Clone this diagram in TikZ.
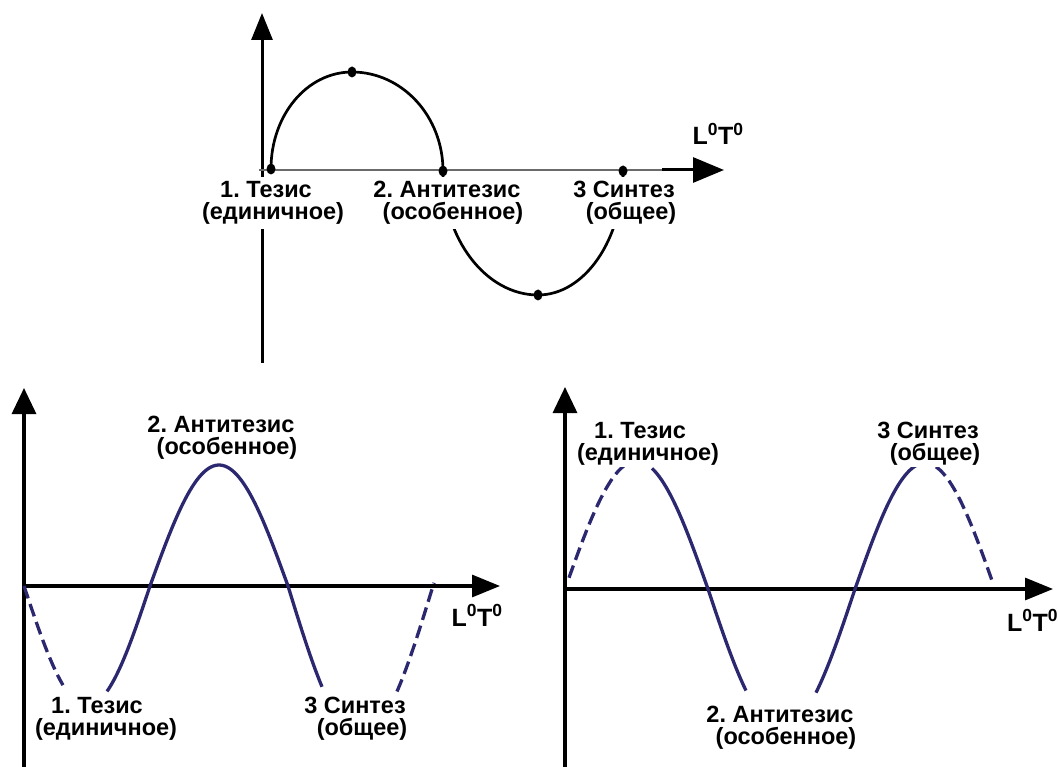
\documentclass[tikz,border=0pt]{standalone}
\usepackage{fontspec}
\setmainfont{Liberation Sans}
\usetikzlibrary{arrows.meta}
\frenchspacing
\definecolor{navy}{HTML}{2B2870}
\definecolor{axgray}{HTML}{6A6A6A}
\tikzset{
  axisline/.style={line width=3.2pt,-{Triangle[length=28pt,width=22pt]}},
  wave/.style={line width=3.3pt,navy},
  wavedash/.style={wave,dash pattern=on 13pt off 6pt},
  toparc/.style={line width=2.7pt,black},
  lbl/.style={font=\fontsize{23.5}{22}\selectfont\bfseries,fill=white,align=center,
    inner xsep=2pt,inner ysep=2pt,anchor=base},
  toplbl/.style={lbl,inner ysep=4.5pt},
  unitlbl/.style={font=\fontsize{25}{25}\selectfont\bfseries,anchor=base,inner sep=0pt},
  ptdot/.style={ellipse,fill=black,inner sep=0pt,minimum width=9pt,minimum height=11pt}
}
\usetikzlibrary{shapes.geometric}
\newcommand{\LT}{L\textsuperscript{0}T\textsuperscript{0}}
% first line shifted left by half of the given space
\newcommand{\shl}[1]{\hspace*{#1}}
\begin{document}
\begin{tikzpicture}[x=1pt,y=-1pt]
\fill[white] (0,0) rectangle (1058,767);
\useasboundingbox (0,0) rectangle (1058,767);

% ================= TOP PANEL =================
\coordinate (tyb) at (262,363);
\coordinate (tyt) at (262,13);
\coordinate (txl) at (259,170);
\coordinate (txm) at (662,170);
\coordinate (txr) at (724,170);
\draw[line width=3pt,-{Triangle[length=27pt,width=21pt]}] (tyb) -- (tyt);
\draw[line width=2.2pt,axgray] (txl) -- (txm);
\draw[line width=3pt,-{Triangle[length=31pt,width=25pt]}] (txm) -- (txr);

\coordinate (p1) at (271,169);
\coordinate (p2) at (352,72);
\coordinate (p3) at (443,171);
\coordinate (p4) at (538,295);
\coordinate (p5) at (623,171);
\draw[toparc] (p1) .. controls (271,115) and (307,72) .. (p2)
  .. controls (402,72) and (443,116) .. (p3)
  .. controls (443,239) and (486,295) .. (p4)
  .. controls (585,295) and (623,239) .. (p5);

\node[toplbl] (ta) at (273,220) {1. Тезис\shl{14pt}\\(единичное)};
\node[toplbl] (tb) at (453,220) {2. Антитезис\shl{12pt}\\(особенное)};
\node[toplbl] (tc) at (631,220) {3 Синтез\shl{14pt}\\(общее)};
\node[unitlbl] (tu) at (718,145) {\LT};

\node[ptdot] (d1) at (p1) {};
\node[ptdot] (d2) at (p2) {};
\node[ptdot] (d3) at (p3) {};
\node[ptdot] (d4) at (p4) {};
\node[ptdot] (d5) at (p5) {};

% ================= LOWER LEFT PANEL =================
\coordinate (lyb) at (24,767);
\coordinate (lyt) at (24,388);
\coordinate (lxl) at (24,586);
\coordinate (lxr) at (500,586);
\draw[axisline,-{Triangle[length=26pt,width=24pt]}] (lyb) -- (lyt);
\draw[axisline] (lxl) -- (lxr);

\draw[wavedash] plot[domain=24:63,samples=25] (\x,{586+120*sin(((\x-24)/126)*180)});
\draw[wave] plot[domain=107:150,samples=25] (\x,{586+120*sin(((\x-24)/126)*180)})
  -- plot[domain=150:288,samples=60] (\x,{586-121*sin(((\x-150)/138)*180)})
  -- plot[domain=288:322,samples=20] (\x,{586+150*sin(((\x-288)/145)*180)});
\draw[wavedash] plot[domain=397:434,samples=25] (\x,{586+150*sin(((\x-288)/145)*180)});

\node[lbl] (la) at (227,454) {2. Антитезис\shl{12pt}\\(особенное)};
\node[lbl] (lb) at (106,735) {1. Тезис\shl{18pt}\\(единичное)};
\node[lbl] (lc) at (362,735) {3 Синтез\shl{14pt}\\(общее)};
\node[unitlbl] (lu) at (477,626) {\LT};

% ================= LOWER RIGHT PANEL =================
\coordinate (ryb) at (565,767);
\coordinate (ryt) at (565,387);
\coordinate (rxl) at (565,589);
\coordinate (rxr) at (1053,589);
\draw[axisline,-{Triangle[length=26pt,width=24pt]}] (ryb) -- (ryt);
\draw[axisline] (rxl) -- (rxr);

\draw[wavedash] plot[domain=569:624,samples=30] (\x,{589-128*sin(((\x-565)/143)*180)});
\draw[wave] plot[domain=652:708,samples=25] (\x,{589-128*sin(((\x-565)/143)*180)})
  -- plot[domain=708:746,samples=20] (\x,{589+140*sin(((\x-708)/147)*180)});
\draw[wave] plot[domain=816:855,samples=20] (\x,{589+140*sin(((\x-708)/147)*180)})
  -- plot[domain=855:928,samples=40] (\x,{589-126*sin(((\x-855)/140)*180)});
\draw[wavedash] plot[domain=936:993,samples=30] (\x,{589-126*sin(((\x-855)/140)*180)});

\node[lbl] (ra) at (648,460) {1. Тезис\shl{16pt}\\(единичное)};
\node[lbl] (rb) at (786,744) {2. Антитезис\shl{12pt}\\(особенное)};
\node[lbl] (rc) at (935,460) {3 Синтез\shl{14pt}\\(общее)};
\node[unitlbl,anchor=base west] (ru) at (1007,631) {\LT};
\end{tikzpicture}
\end{document}
